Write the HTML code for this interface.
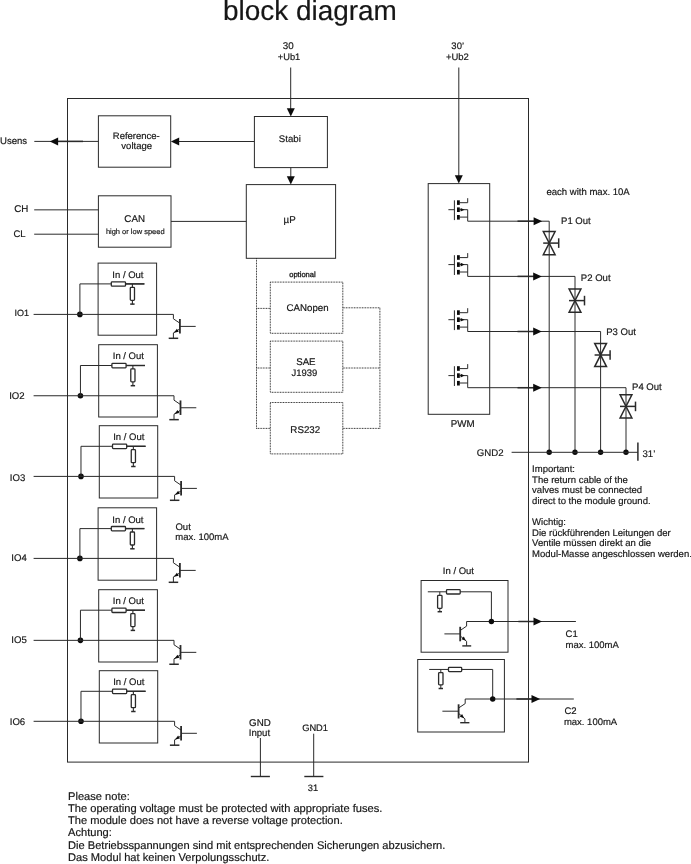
<!DOCTYPE html>
<html><head><meta charset="utf-8"><title>block diagram</title>
<style>
html,body{margin:0;padding:0;background:#fff;}
body{width:691px;height:864px;overflow:hidden;}
svg{display:block;font-family:"Liberation Sans",sans-serif;filter:grayscale(1);}
svg text{fill:#161616;text-rendering:geometricPrecision;stroke:#161616;stroke-width:0.18px;}
svg line,svg polyline,svg rect,svg polygon{stroke:#2a2a2a;}
</style></head><body>
<svg width="691" height="864" viewBox="0 0 691 864">
<rect x="0" y="0" width="691" height="864" fill="#fff" stroke="none" style="stroke:none"/>
<text x="222.91" y="19.70" font-size="27.95" text-anchor="start" fill="#0a0a0a">block diagram</text>
<rect x="67.50" y="98.50" width="461.00" height="663.60" stroke-width="1" fill="none"/>
<text x="282.79" y="48.70" font-size="9.75" text-anchor="start" >30</text>
<text x="277.80" y="59.90" font-size="9.30" text-anchor="start" >+Ub1</text>
<line x1="290.70" y1="67.50" x2="290.70" y2="109.00" stroke-width="1" />
<polygon points="290.80,116.50 286.80,108.20 294.80,108.20" fill="#0c0c0c" stroke="none" style="stroke:none"/>
<text x="451.37" y="48.60" font-size="9.47" text-anchor="start" >30’</text>
<text x="446.03" y="59.60" font-size="9.46" text-anchor="start" >+Ub2</text>
<line x1="458.80" y1="67.50" x2="458.80" y2="176.00" stroke-width="1" />
<polygon points="458.80,183.60 454.80,175.30 462.80,175.30" fill="#0c0c0c" stroke="none" style="stroke:none"/>
<rect x="98.40" y="115.80" width="72.30" height="51.40" stroke-width="1" fill="none"/>
<text x="112.84" y="138.70" font-size="9.49" text-anchor="start" >Reference-</text>
<text x="121.35" y="149.40" font-size="9.50" text-anchor="start" >voltage</text>
<rect x="254.40" y="116.50" width="73.00" height="51.10" stroke-width="1" fill="none"/>
<text x="278.87" y="142.00" font-size="9.65" text-anchor="start" >Stabi</text>
<rect x="246.30" y="184.60" width="89.30" height="73.70" stroke-width="1" fill="none"/>
<text x="283.53" y="222.60" font-size="9.75" text-anchor="start" >µP</text>
<rect x="98.40" y="195.80" width="72.60" height="51.40" stroke-width="1" fill="none"/>
<text x="124.36" y="221.80" font-size="9.75" text-anchor="start" >CAN</text>
<text x="105.88" y="233.85" font-size="7.49" text-anchor="start" >high or low speed</text>
<text x="-0.02" y="144.00" font-size="9.58" text-anchor="start" >Usens</text>
<line x1="34.30" y1="141.40" x2="98.40" y2="141.40" stroke-width="1" />
<line x1="57.00" y1="141.40" x2="83.00" y2="141.40" stroke-width="1.5" />
<polygon points="49.80,141.40 58.10,137.40 58.10,145.40" fill="#0c0c0c" stroke="none" style="stroke:none"/>
<line x1="179.00" y1="141.50" x2="254.40" y2="141.50" stroke-width="1" />
<polygon points="170.90,141.50 179.20,137.50 179.20,145.50" fill="#0c0c0c" stroke="none" style="stroke:none"/>
<line x1="290.80" y1="167.60" x2="290.80" y2="177.00" stroke-width="1" />
<polygon points="290.80,184.60 286.80,176.30 294.80,176.30" fill="#0c0c0c" stroke="none" style="stroke:none"/>
<text x="14.13" y="211.90" font-size="9.75" text-anchor="start" >CH</text>
<line x1="34.20" y1="209.85" x2="98.40" y2="209.85" stroke-width="1" />
<text x="13.42" y="236.70" font-size="9.54" text-anchor="start" >CL</text>
<line x1="34.20" y1="234.20" x2="98.40" y2="234.20" stroke-width="1" />
<line x1="171.00" y1="221.40" x2="246.30" y2="221.40" stroke-width="1" />
<rect x="98.10" y="263.10" width="58.50" height="72.10" stroke-width="1" fill="none"/>
<text x="112.34" y="277.90" font-size="9.50" text-anchor="start" >In / Out</text>
<text x="14.39" y="316.00" font-size="9.02" text-anchor="start" >IO1</text>
<circle cx="79.90" cy="314.40" r="2.8" fill="#0c0c0c" stroke="none"/>
<polyline points="79.90,314.40 79.90,283.90 144.40,283.90" stroke-width="1" fill="none" />
<line x1="125.30" y1="283.90" x2="144.40" y2="283.90" stroke-width="1.45" />
<rect x="111.30" y="281.80" width="14.20" height="4.40" stroke-width="1.3" fill="#fff" rx="0.8"/>
<line x1="132.40" y1="283.90" x2="132.40" y2="304.20" stroke-width="1.1" />
<rect x="130.30" y="287.30" width="4.20" height="13.00" stroke-width="1.3" fill="#fff" rx="0.8"/>
<line x1="130.20" y1="304.10" x2="134.60" y2="304.10" stroke-width="1.5" />
<polyline points="33.60,314.40 173.40,314.40 173.40,318.80 179.90,323.20" stroke-width="1" fill="none" />
<line x1="179.90" y1="319.10" x2="179.90" y2="333.60" stroke-width="1.8" />
<line x1="179.90" y1="326.40" x2="195.70" y2="326.40" stroke-width="1" />
<polyline points="179.90,328.90 173.40,332.90 173.40,338.30" stroke-width="1" fill="none" />
<polygon points="173.90,332.70 178.70,331.70 176.90,328.70" fill="#0c0c0c" stroke="none" style="stroke:none"/>
<line x1="168.70" y1="338.30" x2="178.20" y2="338.30" stroke-width="1.5" />
<rect x="98.70" y="344.70" width="58.70" height="72.30" stroke-width="1" fill="none"/>
<text x="112.76" y="359.20" font-size="9.50" text-anchor="start" >In / Out</text>
<text x="9.18" y="399.00" font-size="9.60" text-anchor="start" >IO2</text>
<circle cx="80.44" cy="395.75" r="2.8" fill="#0c0c0c" stroke="none"/>
<polyline points="80.44,395.75 80.44,365.50 145.00,365.50" stroke-width="1" fill="none" />
<line x1="125.90" y1="365.50" x2="145.00" y2="365.50" stroke-width="1.45" />
<rect x="111.90" y="363.40" width="14.20" height="4.40" stroke-width="1.3" fill="#fff" rx="0.8"/>
<line x1="132.88" y1="365.50" x2="132.88" y2="385.80" stroke-width="1.1" />
<rect x="130.78" y="368.90" width="4.20" height="13.00" stroke-width="1.3" fill="#fff" rx="0.8"/>
<line x1="130.68" y1="385.70" x2="135.08" y2="385.70" stroke-width="1.5" />
<polyline points="33.60,395.75 174.00,395.75 174.00,400.15 180.50,404.55" stroke-width="1" fill="none" />
<line x1="180.50" y1="400.45" x2="180.50" y2="414.95" stroke-width="1.8" />
<line x1="180.50" y1="407.75" x2="196.30" y2="407.75" stroke-width="1" />
<polyline points="180.50,410.25 174.00,414.25 174.00,419.65" stroke-width="1" fill="none" />
<polygon points="174.50,414.05 179.30,413.05 177.50,410.05" fill="#0c0c0c" stroke="none" style="stroke:none"/>
<line x1="169.30" y1="419.65" x2="178.80" y2="419.65" stroke-width="1.5" />
<rect x="99.30" y="425.70" width="58.40" height="72.30" stroke-width="1" fill="none"/>
<text x="113.18" y="440.20" font-size="9.50" text-anchor="start" >In / Out</text>
<text x="9.83" y="481.10" font-size="9.60" text-anchor="start" >IO3</text>
<circle cx="80.98" cy="476.40" r="2.8" fill="#0c0c0c" stroke="none"/>
<polyline points="80.98,476.40 80.98,446.30 145.60,446.30" stroke-width="1" fill="none" />
<line x1="126.50" y1="446.30" x2="145.60" y2="446.30" stroke-width="1.45" />
<rect x="112.50" y="444.20" width="14.20" height="4.40" stroke-width="1.3" fill="#fff" rx="0.8"/>
<line x1="133.36" y1="446.30" x2="133.36" y2="466.60" stroke-width="1.1" />
<rect x="131.26" y="449.70" width="4.20" height="13.00" stroke-width="1.3" fill="#fff" rx="0.8"/>
<line x1="131.16" y1="466.50" x2="135.56" y2="466.50" stroke-width="1.5" />
<polyline points="33.60,476.40 174.60,476.40 174.60,480.80 181.10,485.20" stroke-width="1" fill="none" />
<line x1="181.10" y1="481.10" x2="181.10" y2="495.60" stroke-width="1.8" />
<line x1="181.10" y1="488.40" x2="196.90" y2="488.40" stroke-width="1" />
<polyline points="181.10,490.90 174.60,494.90 174.60,500.30" stroke-width="1" fill="none" />
<polygon points="175.10,494.70 179.90,493.70 178.10,490.70" fill="#0c0c0c" stroke="none" style="stroke:none"/>
<line x1="169.90" y1="500.30" x2="179.40" y2="500.30" stroke-width="1.5" />
<rect x="98.10" y="507.80" width="58.50" height="72.40" stroke-width="1" fill="none"/>
<text x="112.34" y="522.90" font-size="9.50" text-anchor="start" >In / Out</text>
<text x="11.26" y="560.90" font-size="9.60" text-anchor="start" >IO4</text>
<circle cx="79.90" cy="558.40" r="2.8" fill="#0c0c0c" stroke="none"/>
<polyline points="79.90,558.40 79.90,528.60 144.40,528.60" stroke-width="1" fill="none" />
<line x1="125.30" y1="528.60" x2="144.40" y2="528.60" stroke-width="1.45" />
<rect x="111.30" y="526.50" width="14.20" height="4.40" stroke-width="1.3" fill="#fff" rx="0.8"/>
<line x1="132.40" y1="528.60" x2="132.40" y2="548.90" stroke-width="1.1" />
<rect x="130.30" y="532.00" width="4.20" height="13.00" stroke-width="1.3" fill="#fff" rx="0.8"/>
<line x1="130.20" y1="548.80" x2="134.60" y2="548.80" stroke-width="1.5" />
<polyline points="33.60,558.40 173.40,558.40 173.40,562.80 179.90,567.20" stroke-width="1" fill="none" />
<line x1="179.90" y1="563.10" x2="179.90" y2="577.60" stroke-width="1.8" />
<line x1="179.90" y1="570.40" x2="195.70" y2="570.40" stroke-width="1" />
<polyline points="179.90,572.90 173.40,576.90 173.40,582.30" stroke-width="1" fill="none" />
<polygon points="173.90,576.70 178.70,575.70 176.90,572.70" fill="#0c0c0c" stroke="none" style="stroke:none"/>
<line x1="168.70" y1="582.30" x2="178.20" y2="582.30" stroke-width="1.5" />
<rect x="98.70" y="589.70" width="58.70" height="72.30" stroke-width="1" fill="none"/>
<text x="112.76" y="604.20" font-size="9.50" text-anchor="start" >In / Out</text>
<text x="11.33" y="642.90" font-size="9.60" text-anchor="start" >IO5</text>
<circle cx="80.44" cy="640.35" r="2.8" fill="#0c0c0c" stroke="none"/>
<polyline points="80.44,640.35 80.44,610.20 145.00,610.20" stroke-width="1" fill="none" />
<line x1="125.90" y1="610.20" x2="145.00" y2="610.20" stroke-width="1.45" />
<rect x="111.90" y="608.10" width="14.20" height="4.40" stroke-width="1.3" fill="#fff" rx="0.8"/>
<line x1="132.88" y1="610.20" x2="132.88" y2="630.50" stroke-width="1.1" />
<rect x="130.78" y="613.60" width="4.20" height="13.00" stroke-width="1.3" fill="#fff" rx="0.8"/>
<line x1="130.68" y1="630.40" x2="135.08" y2="630.40" stroke-width="1.5" />
<polyline points="33.60,640.35 174.00,640.35 174.00,644.75 180.50,649.15" stroke-width="1" fill="none" />
<line x1="180.50" y1="645.05" x2="180.50" y2="659.55" stroke-width="1.8" />
<line x1="180.50" y1="652.35" x2="196.30" y2="652.35" stroke-width="1" />
<polyline points="180.50,654.85 174.00,658.85 174.00,664.25" stroke-width="1" fill="none" />
<polygon points="174.50,658.65 179.30,657.65 177.50,654.65" fill="#0c0c0c" stroke="none" style="stroke:none"/>
<line x1="169.30" y1="664.25" x2="178.80" y2="664.25" stroke-width="1.5" />
<rect x="99.30" y="670.70" width="58.40" height="72.30" stroke-width="1" fill="none"/>
<text x="113.18" y="685.20" font-size="9.50" text-anchor="start" >In / Out</text>
<text x="9.73" y="725.10" font-size="9.60" text-anchor="start" >IO6</text>
<circle cx="80.98" cy="721.30" r="2.8" fill="#0c0c0c" stroke="none"/>
<polyline points="80.98,721.30 80.98,691.30 145.60,691.30" stroke-width="1" fill="none" />
<line x1="126.50" y1="691.30" x2="145.60" y2="691.30" stroke-width="1.45" />
<rect x="112.50" y="689.20" width="14.20" height="4.40" stroke-width="1.3" fill="#fff" rx="0.8"/>
<line x1="133.36" y1="691.30" x2="133.36" y2="711.60" stroke-width="1.1" />
<rect x="131.26" y="694.70" width="4.20" height="13.00" stroke-width="1.3" fill="#fff" rx="0.8"/>
<line x1="131.16" y1="711.50" x2="135.56" y2="711.50" stroke-width="1.5" />
<polyline points="33.60,721.30 174.60,721.30 174.60,725.70 181.10,730.10" stroke-width="1" fill="none" />
<line x1="181.10" y1="726.00" x2="181.10" y2="740.50" stroke-width="1.8" />
<line x1="181.10" y1="733.30" x2="196.90" y2="733.30" stroke-width="1" />
<polyline points="181.10,735.80 174.60,739.80 174.60,745.20" stroke-width="1" fill="none" />
<polygon points="175.10,739.60 179.90,738.60 178.10,735.60" fill="#0c0c0c" stroke="none" style="stroke:none"/>
<line x1="169.90" y1="745.20" x2="179.40" y2="745.20" stroke-width="1.5" />
<text x="175.47" y="529.80" font-size="9.50" text-anchor="start" >Out</text>
<text x="175.28" y="539.70" font-size="9.50" text-anchor="start" >max. 100mA</text>
<text x="289.20" y="276.60" font-size="7.57" text-anchor="start" style="stroke-width:0.3px">optional</text>
<rect x="270.30" y="282.10" width="72.50" height="51.20" stroke-width="1" fill="none" stroke-dasharray="0.85 0.75" style="stroke:#1e1e1e"/>
<line x1="256.50" y1="308.40" x2="270.30" y2="308.40" stroke-width="1" stroke-dasharray="0.85 0.75" style="stroke:#1e1e1e"/>
<line x1="342.80" y1="307.80" x2="379.90" y2="307.80" stroke-width="1" stroke-dasharray="0.85 0.75" style="stroke:#1e1e1e"/>
<rect x="270.30" y="341.10" width="72.50" height="51.20" stroke-width="1" fill="none" stroke-dasharray="0.85 0.75" style="stroke:#1e1e1e"/>
<line x1="256.50" y1="368.00" x2="270.30" y2="368.00" stroke-width="1" stroke-dasharray="0.85 0.75" style="stroke:#1e1e1e"/>
<line x1="342.80" y1="368.00" x2="379.90" y2="368.00" stroke-width="1" stroke-dasharray="0.85 0.75" style="stroke:#1e1e1e"/>
<rect x="270.30" y="402.50" width="72.50" height="51.40" stroke-width="1" fill="none" stroke-dasharray="0.85 0.75" style="stroke:#1e1e1e"/>
<line x1="256.50" y1="428.40" x2="270.30" y2="428.40" stroke-width="1" stroke-dasharray="0.85 0.75" style="stroke:#1e1e1e"/>
<line x1="342.80" y1="428.40" x2="379.90" y2="428.40" stroke-width="1" stroke-dasharray="0.85 0.75" style="stroke:#1e1e1e"/>
<text x="286.62" y="311.00" font-size="9.68" text-anchor="start" >CANopen</text>
<text x="296.16" y="365.00" font-size="9.71" text-anchor="start" >SAE</text>
<text x="291.56" y="375.90" font-size="9.46" text-anchor="start" >J1939</text>
<text x="290.36" y="433.05" font-size="9.75" text-anchor="start" >RS232</text>
<line x1="256.50" y1="258.30" x2="256.50" y2="428.60" stroke-width="1" stroke-dasharray="0.85 0.75" style="stroke:#1e1e1e"/>
<line x1="379.90" y1="307.80" x2="379.90" y2="428.60" stroke-width="1" stroke-dasharray="0.85 0.75" style="stroke:#1e1e1e"/>
<rect x="428.20" y="183.60" width="61.50" height="230.70" stroke-width="1" fill="none"/>
<text x="450.75" y="426.70" font-size="9.75" text-anchor="start" >PWM</text>
<text x="546.42" y="195.10" font-size="9.55" text-anchor="start" >each with max. 10A</text>
<line x1="448.40" y1="209.70" x2="454.40" y2="209.70" stroke-width="1" />
<line x1="454.40" y1="200.30" x2="454.40" y2="220.10" stroke-width="1" />
<rect x="457.00" y="200.30" width="2.80" height="4.60" stroke-width="0" fill="#0c0c0c" stroke="none" style="stroke:none"/>
<rect x="457.00" y="207.40" width="2.80" height="4.60" stroke-width="0" fill="#0c0c0c" stroke="none" style="stroke:none"/>
<rect x="457.00" y="215.00" width="2.80" height="4.60" stroke-width="0" fill="#0c0c0c" stroke="none" style="stroke:none"/>
<polyline points="459.00,202.70 467.70,202.70 467.70,198.20" stroke-width="1" fill="none" />
<line x1="459.00" y1="209.70" x2="467.70" y2="209.70" stroke-width="1" />
<polygon points="464.60,209.70 460.60,207.90 460.60,211.50" fill="#0c0c0c" stroke="none" style="stroke:none"/>
<line x1="459.00" y1="217.10" x2="467.70" y2="217.10" stroke-width="1" />
<polyline points="467.70,209.70 467.70,221.20 549.20,221.20 549.20,452.30" stroke-width="1" fill="none" />
<line x1="517.50" y1="221.20" x2="534.00" y2="221.20" stroke-width="1.5" />
<polygon points="542.20,221.20 533.60,217.20 533.60,225.20" fill="#0c0c0c" stroke="none" style="stroke:none"/>
<polygon points="543.30,231.50 555.10,231.50 543.30,254.70 555.10,254.70" fill="#fff" stroke-width="1.5"/>
<line x1="549.20" y1="231.20" x2="549.20" y2="255.00" stroke-width="1" />
<line x1="543.20" y1="243.10" x2="558.70" y2="243.10" stroke-width="1.5" />
<line x1="558.70" y1="238.30" x2="558.70" y2="247.90" stroke-width="1.5" />
<circle cx="549.20" cy="452.30" r="2.7" fill="#0c0c0c" stroke="none"/>
<text x="561.04" y="224.00" font-size="9.55" text-anchor="start" >P1 Out</text>
<line x1="448.40" y1="264.60" x2="454.40" y2="264.60" stroke-width="1" />
<line x1="454.40" y1="255.20" x2="454.40" y2="275.00" stroke-width="1" />
<rect x="457.00" y="255.20" width="2.80" height="4.60" stroke-width="0" fill="#0c0c0c" stroke="none" style="stroke:none"/>
<rect x="457.00" y="262.30" width="2.80" height="4.60" stroke-width="0" fill="#0c0c0c" stroke="none" style="stroke:none"/>
<rect x="457.00" y="269.90" width="2.80" height="4.60" stroke-width="0" fill="#0c0c0c" stroke="none" style="stroke:none"/>
<polyline points="459.00,257.60 467.70,257.60 467.70,253.10" stroke-width="1" fill="none" />
<line x1="459.00" y1="264.60" x2="467.70" y2="264.60" stroke-width="1" />
<polygon points="464.60,264.60 460.60,262.80 460.60,266.40" fill="#0c0c0c" stroke="none" style="stroke:none"/>
<line x1="459.00" y1="272.00" x2="467.70" y2="272.00" stroke-width="1" />
<polyline points="467.70,264.60 467.70,276.40 575.00,276.40 575.00,452.30" stroke-width="1" fill="none" />
<line x1="517.50" y1="276.40" x2="534.00" y2="276.40" stroke-width="1.5" />
<polygon points="541.80,276.40 533.20,272.40 533.20,280.40" fill="#0c0c0c" stroke="none" style="stroke:none"/>
<polygon points="569.10,289.00 580.90,289.00 569.10,312.20 580.90,312.20" fill="#fff" stroke-width="1.5"/>
<line x1="575.00" y1="288.70" x2="575.00" y2="312.50" stroke-width="1" />
<line x1="569.00" y1="300.60" x2="584.50" y2="300.60" stroke-width="1.5" />
<line x1="584.50" y1="295.80" x2="584.50" y2="305.40" stroke-width="1.5" />
<circle cx="575.00" cy="452.30" r="2.7" fill="#0c0c0c" stroke="none"/>
<text x="580.84" y="280.65" font-size="9.55" text-anchor="start" >P2 Out</text>
<line x1="448.40" y1="319.70" x2="454.40" y2="319.70" stroke-width="1" />
<line x1="454.40" y1="310.30" x2="454.40" y2="330.10" stroke-width="1" />
<rect x="457.00" y="310.30" width="2.80" height="4.60" stroke-width="0" fill="#0c0c0c" stroke="none" style="stroke:none"/>
<rect x="457.00" y="317.40" width="2.80" height="4.60" stroke-width="0" fill="#0c0c0c" stroke="none" style="stroke:none"/>
<rect x="457.00" y="325.00" width="2.80" height="4.60" stroke-width="0" fill="#0c0c0c" stroke="none" style="stroke:none"/>
<polyline points="459.00,312.70 467.70,312.70 467.70,308.20" stroke-width="1" fill="none" />
<line x1="459.00" y1="319.70" x2="467.70" y2="319.70" stroke-width="1" />
<polygon points="464.60,319.70 460.60,317.90 460.60,321.50" fill="#0c0c0c" stroke="none" style="stroke:none"/>
<line x1="459.00" y1="327.10" x2="467.70" y2="327.10" stroke-width="1" />
<polyline points="467.70,319.70 467.70,331.50 600.60,331.50 600.60,452.30" stroke-width="1" fill="none" />
<line x1="517.50" y1="331.50" x2="534.00" y2="331.50" stroke-width="1.5" />
<polygon points="541.80,331.50 533.20,327.50 533.20,335.50" fill="#0c0c0c" stroke="none" style="stroke:none"/>
<polygon points="594.70,343.40 606.50,343.40 594.70,366.60 606.50,366.60" fill="#fff" stroke-width="1.5"/>
<line x1="600.60" y1="343.10" x2="600.60" y2="366.90" stroke-width="1" />
<line x1="594.60" y1="355.00" x2="610.10" y2="355.00" stroke-width="1.5" />
<line x1="610.10" y1="350.20" x2="610.10" y2="359.80" stroke-width="1.5" />
<circle cx="600.60" cy="452.30" r="2.7" fill="#0c0c0c" stroke="none"/>
<text x="606.24" y="334.50" font-size="9.55" text-anchor="start" >P3 Out</text>
<line x1="448.40" y1="375.60" x2="454.40" y2="375.60" stroke-width="1" />
<line x1="454.40" y1="366.20" x2="454.40" y2="386.00" stroke-width="1" />
<rect x="457.00" y="366.20" width="2.80" height="4.60" stroke-width="0" fill="#0c0c0c" stroke="none" style="stroke:none"/>
<rect x="457.00" y="373.30" width="2.80" height="4.60" stroke-width="0" fill="#0c0c0c" stroke="none" style="stroke:none"/>
<rect x="457.00" y="380.90" width="2.80" height="4.60" stroke-width="0" fill="#0c0c0c" stroke="none" style="stroke:none"/>
<polyline points="459.00,368.60 467.70,368.60 467.70,364.10" stroke-width="1" fill="none" />
<line x1="459.00" y1="375.60" x2="467.70" y2="375.60" stroke-width="1" />
<polygon points="464.60,375.60 460.60,373.80 460.60,377.40" fill="#0c0c0c" stroke="none" style="stroke:none"/>
<line x1="459.00" y1="383.00" x2="467.70" y2="383.00" stroke-width="1" />
<polyline points="467.70,375.60 467.70,387.70 626.00,387.70 626.00,452.30" stroke-width="1" fill="none" />
<line x1="517.50" y1="387.70" x2="534.00" y2="387.70" stroke-width="1.5" />
<polygon points="541.80,387.70 533.20,383.70 533.20,391.70" fill="#0c0c0c" stroke="none" style="stroke:none"/>
<polygon points="620.10,394.80 631.90,394.80 620.10,418.00 631.90,418.00" fill="#fff" stroke-width="1.5"/>
<line x1="626.00" y1="394.50" x2="626.00" y2="418.30" stroke-width="1" />
<line x1="620.00" y1="406.40" x2="635.50" y2="406.40" stroke-width="1.5" />
<line x1="635.50" y1="401.60" x2="635.50" y2="411.20" stroke-width="1.5" />
<circle cx="626.00" cy="452.30" r="2.7" fill="#0c0c0c" stroke="none"/>
<text x="632.04" y="389.90" font-size="9.55" text-anchor="start" >P4 Out</text>
<text x="476.82" y="456.10" font-size="9.64" text-anchor="start" >GND2</text>
<line x1="511.60" y1="452.30" x2="637.90" y2="452.30" stroke-width="1" />
<line x1="637.90" y1="442.60" x2="637.90" y2="460.80" stroke-width="1.5" />
<text x="642.46" y="457.30" font-size="9.64" text-anchor="start" >31’</text>
<text x="532.10" y="471.90" font-size="9.53" text-anchor="start" >Important:</text>
<text x="532.10" y="482.70" font-size="9.53" text-anchor="start" >The return cable of the</text>
<text x="532.10" y="493.10" font-size="9.53" text-anchor="start" >valves must be connected</text>
<text x="532.10" y="503.90" font-size="9.53" text-anchor="start" >direct to the module ground.</text>
<text x="532.10" y="525.30" font-size="9.53" text-anchor="start" >Wichtig:</text>
<text x="532.10" y="536.10" font-size="9.53" text-anchor="start" >Die rückführenden Leitungen der</text>
<text x="532.10" y="546.40" font-size="9.53" text-anchor="start" >Ventile müssen direkt an die</text>
<text x="532.10" y="557.00" font-size="9.53" text-anchor="start" >Modul-Masse angeschlossen werden.</text>
<text x="442.84" y="573.80" font-size="9.50" text-anchor="start" >In / Out</text>
<rect x="421.10" y="580.50" width="86.90" height="71.70" stroke-width="1" fill="none"/>
<polyline points="427.80,591.80 491.40,591.80 491.40,621.50" stroke-width="1" fill="none" />
<rect x="446.50" y="589.60" width="13.70" height="4.40" stroke-width="1.3" fill="#fff" rx="0.8"/>
<line x1="439.80" y1="591.80" x2="439.80" y2="611.70" stroke-width="1" />
<rect x="437.60" y="595.40" width="4.40" height="12.90" stroke-width="1.3" fill="#fff" rx="0.8"/>
<line x1="437.60" y1="611.70" x2="442.00" y2="611.70" stroke-width="1.5" />
<line x1="444.40" y1="633.90" x2="460.20" y2="633.90" stroke-width="1" />
<line x1="460.20" y1="626.80" x2="460.20" y2="641.30" stroke-width="1.8" />
<polyline points="460.20,630.50 466.60,626.10 466.60,621.50 575.90,621.50" stroke-width="1" fill="none" />
<polyline points="460.20,635.90 466.60,641.30 466.60,645.80" stroke-width="1" fill="none" />
<polygon points="465.90,640.70 461.50,639.20 463.80,636.50" fill="#0c0c0c" stroke="none" style="stroke:none"/>
<line x1="462.30" y1="645.90" x2="471.20" y2="645.90" stroke-width="1.4" />
<circle cx="491.40" cy="621.50" r="2.7" fill="#0c0c0c" stroke="none"/>
<line x1="518.40" y1="621.50" x2="534.00" y2="621.50" stroke-width="1.5" />
<polygon points="542.10,621.50 533.50,617.50 533.50,625.50" fill="#0c0c0c" stroke="none" style="stroke:none"/>
<text x="565.62" y="636.80" font-size="9.50" text-anchor="start" >C1</text>
<text x="565.48" y="647.80" font-size="9.50" text-anchor="start" >max. 100mA</text>
<rect x="417.70" y="659.50" width="86.70" height="72.50" stroke-width="1" fill="none"/>
<polyline points="429.20,669.45 492.70,669.45 492.70,699.00" stroke-width="1" fill="none" />
<rect x="448.50" y="667.30" width="13.20" height="4.30" stroke-width="1.3" fill="#fff" rx="0.8"/>
<line x1="440.80" y1="669.45" x2="440.80" y2="688.50" stroke-width="1" />
<rect x="438.60" y="672.70" width="4.40" height="12.20" stroke-width="1.3" fill="#fff" rx="0.8"/>
<line x1="438.60" y1="688.50" x2="443.00" y2="688.50" stroke-width="1.5" />
<line x1="442.40" y1="711.20" x2="458.60" y2="711.20" stroke-width="1" />
<line x1="458.60" y1="704.30" x2="458.60" y2="718.50" stroke-width="1.8" />
<polyline points="458.60,708.00 465.20,703.60 465.20,699.00 573.80,699.00" stroke-width="1" fill="none" />
<polyline points="458.60,713.40 464.90,718.80 464.90,722.60" stroke-width="1" fill="none" />
<polygon points="464.20,718.20 459.80,716.70 462.10,714.00" fill="#0c0c0c" stroke="none" style="stroke:none"/>
<line x1="460.20" y1="722.70" x2="469.40" y2="722.70" stroke-width="1.4" />
<circle cx="492.70" cy="699.00" r="2.7" fill="#0c0c0c" stroke="none"/>
<line x1="516.40" y1="699.00" x2="532.40" y2="699.00" stroke-width="1.5" />
<polygon points="540.10,699.00 531.50,695.00 531.50,703.00" fill="#0c0c0c" stroke="none" style="stroke:none"/>
<text x="564.42" y="713.90" font-size="9.50" text-anchor="start" >C2</text>
<text x="563.88" y="724.65" font-size="9.50" text-anchor="start" >max. 100mA</text>
<text x="249.05" y="725.80" font-size="9.75" text-anchor="start" >GND</text>
<text x="248.73" y="735.70" font-size="9.65" text-anchor="start" >Input</text>
<line x1="260.40" y1="738.00" x2="260.40" y2="776.50" stroke-width="1" />
<line x1="250.80" y1="776.50" x2="269.90" y2="776.50" stroke-width="1.4" />
<text x="302.13" y="731.05" font-size="9.33" text-anchor="start" >GND1</text>
<line x1="313.70" y1="733.70" x2="313.70" y2="776.50" stroke-width="1" />
<line x1="304.30" y1="776.50" x2="323.40" y2="776.50" stroke-width="1.4" />
<text x="307.83" y="790.60" font-size="9.30" text-anchor="start" >31</text>
<text x="68.00" y="799.80" font-size="11.12" text-anchor="start" >Please note:</text>
<text x="68.00" y="811.70" font-size="11.12" text-anchor="start" >The operating voltage must be protected with appropriate fuses.</text>
<text x="68.00" y="823.80" font-size="11.12" text-anchor="start" >The module does not have a reverse voltage protection.</text>
<text x="68.00" y="836.20" font-size="11.12" text-anchor="start" >Achtung:</text>
<text x="68.00" y="848.60" font-size="11.12" text-anchor="start" >Die Betriebsspannungen sind mit entsprechenden Sicherungen abzusichern.</text>
<text x="68.00" y="860.80" font-size="11.12" text-anchor="start" >Das Modul hat keinen Verpolungsschutz.</text>
</svg>
</body></html>
